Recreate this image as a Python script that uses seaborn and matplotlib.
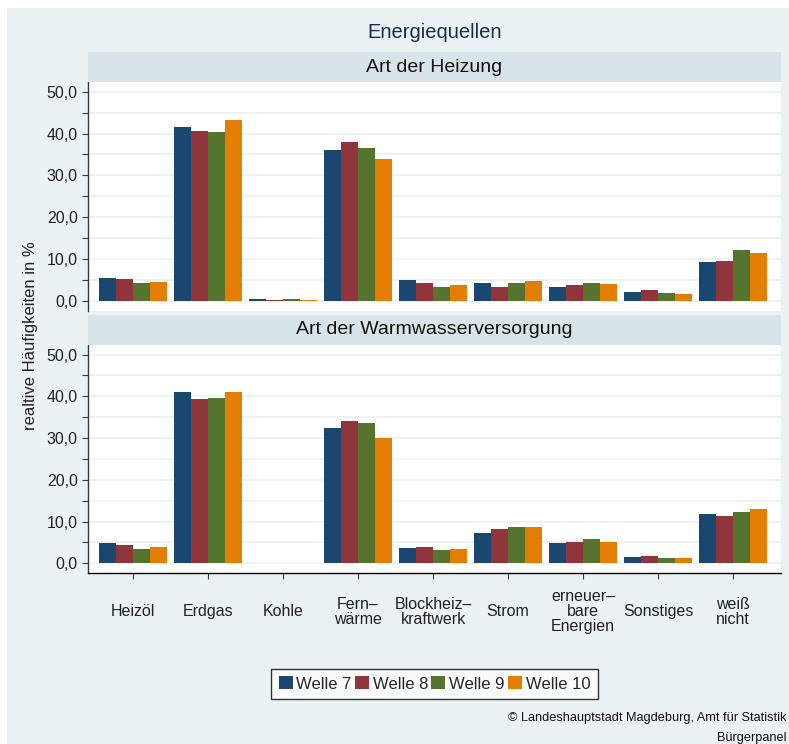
import matplotlib
matplotlib.use("Agg")
import numpy as np
import pandas as pd
import matplotlib.pyplot as plt
import seaborn as sns
from matplotlib.patches import Rectangle
from matplotlib.ticker import MultipleLocator, FuncFormatter

# Kategorien und Wellen
categories = ["Heizöl", "Erdgas", "Kohle", "Fern–\nwärme", "Blockheiz–\nkraftwerk",
              "Strom", "erneuer–\nbare\nEnergien", "Sonstiges", "weiß\nnicht"]
waves = ["Welle 7", "Welle 8", "Welle 9", "Welle 10"]
colors = ["#1a476f", "#90353b", "#55752f", "#e37e00"]

# Art der Heizung (relative Häufigkeiten in %)
heiz_w7 = [5.35, 41.5, 0.3, 36.0, 4.9, 4.15, 3.2, 2.0, 9.2]
heiz_w8 = [5.1, 40.6, 0.1, 37.9, 4.15, 3.2, 3.7, 2.5, 9.4]
heiz_w9 = [4.15, 40.3, 0.3, 36.5, 3.2, 4.15, 4.15, 1.75, 12.1]
heiz_w10 = [4.4, 43.2, 0.1, 33.9, 3.7, 4.6, 3.9, 1.5, 11.3]

# Art der Warmwasserversorgung
ww_w7 = [4.8, 41.0, 0.05, 32.4, 3.6, 7.2, 4.8, 1.4, 11.8]
ww_w8 = [4.3, 39.4, 0.05, 34.1, 3.8, 8.2, 5.0, 1.7, 11.3]
ww_w9 = [3.4, 39.6, 0.05, 33.6, 3.1, 8.6, 5.8, 1.2, 12.2]
ww_w10 = [3.8, 41.0, 0.05, 30.0, 3.4, 8.6, 5.0, 1.2, 13.0]

panel_titles = ["Art der Heizung", "Art der Warmwasserversorgung"]


def long_frame(series):
    rows = []
    for wave, vals in zip(waves, series):
        for cat, v in zip(categories, vals):
            rows.append({"Kategorie": cat, "Welle": wave, "Wert": v})
    return pd.DataFrame(rows)


df_heiz = long_frame([heiz_w7, heiz_w8, heiz_w9, heiz_w10])
df_ww = long_frame([ww_w7, ww_w8, ww_w9, ww_w10])

sns.set_theme(style="white")
plt.rcParams["font.family"] = ["Liberation Sans", "DejaVu Sans"]

W, H = 789, 744
BG = "#eaf2f3"
STRIP = "#d9e4ea"
GRID = "#e8f0f1"
SPINE = "#3a3a3a"


def fx(px):
    return px / W


def fy(py):
    return 1 - py / H


fig = plt.figure(figsize=(W / 100, H / 100), dpi=100, facecolor="white")
fig.add_artist(Rectangle((fx(7), 0), 1 - fx(7), fy(8), transform=fig.transFigure,
                         facecolor=BG, edgecolor="none", zorder=0))

# Achsenpositionen in Pixeln: (oben, unten) der Plotfläche, Streifen darüber
panels = [(82, 310.7, 52), (344.7, 573.3, 314.7)]
axes = []
for (top, bot, strip_top), data, title in zip(panels, [df_heiz, df_ww], panel_titles):
    ax = fig.add_axes([fx(88), fy(bot), fx(781) - fx(88), (bot - top) / H])
    ax.set_facecolor("white")
    sns.barplot(data=data, x="Kategorie", y="Wert",
                hue="Welle", palette=colors, width=0.907, saturation=1,
                linewidth=0, errorbar=None, ax=ax, zorder=3)
    ax.set_xlim(-0.6, 8.64)
    ax.set_ylim(-2.4, 52.35)
    ax.yaxis.set_major_locator(MultipleLocator(10))
    ax.yaxis.set_minor_locator(MultipleLocator(5))
    ax.yaxis.set_major_formatter(FuncFormatter(lambda v, p: f"{v:.1f}".replace(".", ",")))
    for v in np.arange(0, 51, 5):
        ax.axhline(v, color=GRID, lw=1.1, zorder=1)
    ax.set_xlabel("")
    ax.set_ylabel("")
    for s in ["top", "right", "bottom"]:
        ax.spines[s].set_visible(False)
    ax.spines["left"].set_color(SPINE)
    ax.spines["left"].set_linewidth(1.0)
    ax.tick_params(axis="y", which="both", left=True, length=4.3, width=0.8,
                   color=SPINE, labelsize=11.5, pad=3, labelcolor="#222222")
    ax.get_legend().remove()
    # Streifen mit Paneltitel
    fig.add_artist(Rectangle((fx(88), fy(top)), fx(781) - fx(88), (top - strip_top) / H,
                             transform=fig.transFigure, facecolor=STRIP,
                             edgecolor="none", zorder=1))
    fig.text(fx(434.5), fy((strip_top + top) / 2), title, ha="center", va="center",
             fontsize=14, color="#111111")
    axes.append(ax)

ax_top, ax_bot = axes
ax_top.tick_params(axis="x", bottom=False, labelbottom=False)
ax_bot.spines["bottom"].set_visible(True)
ax_bot.spines["bottom"].set_color("black")
ax_bot.spines["bottom"].set_linewidth(1.0)
ax_bot.set_xticks(range(len(categories)))
ax_bot.set_xticklabels(categories, va="center", ha="center", multialignment="center",
                       linespacing=1.0)
ax_bot.tick_params(axis="x", bottom=True, length=4.2, width=0.8, color=SPINE,
                   labelsize=11.5, pad=23.6, labelcolor="#222222")

fig.text(fx(434.5), fy(32), "Energiequellen", ha="center", va="center",
         fontsize=14.5, color="#1c2a50")
fig.text(fx(31), fy(336), "realtive Häufigkeiten in %", rotation=90,
         ha="center", va="center", fontsize=12, color="#222222")

handles, labels = ax_top.get_legend_handles_labels()
leg = fig.legend(handles, labels, loc="center", ncol=4,
                 bbox_to_anchor=(fx(434.4), fy(684)), fontsize=12,
                 frameon=True, fancybox=False, edgecolor="black",
                 handlelength=0.84, handleheight=0.8, handletextpad=0.22,
                 columnspacing=0.2, borderpad=0.45, borderaxespad=0)
leg.get_frame().set_linewidth(1.0)
leg.get_frame().set_facecolor("white")

fig.text(1 - 2 / W, fy(718), "© Landeshauptstadt Magdeburg, Amt für Statistik",
         ha="right", va="center", fontsize=9.2, color="#111111")
fig.text(1 - 2 / W, fy(738), "Bürgerpanel", ha="right", va="center",
         fontsize=9.2, color="#111111")

fig.savefig("out.png", dpi=100, facecolor="white")
